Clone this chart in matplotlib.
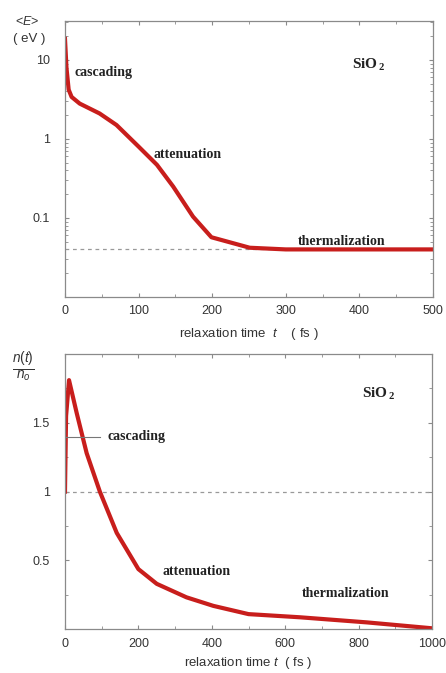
import matplotlib
matplotlib.use('Agg')
import matplotlib.pyplot as plt
from matplotlib.ticker import MultipleLocator, FixedLocator, LogLocator, NullFormatter

plt.rcParams['font.family'] = ['Liberation Sans', 'DejaVu Sans']
plt.rcParams['mathtext.fontset'] = 'custom'
plt.rcParams['mathtext.it'] = 'Liberation Sans:italic'
plt.rcParams['mathtext.rm'] = 'Liberation Sans'
plt.rcParams['mathtext.bf'] = 'Liberation Serif:bold'

# top panel: mean energy <E> (eV) vs relaxation time (fs)
t_E = [0, 2, 5, 9, 20, 47, 70, 100, 125, 147, 174, 199, 251, 300, 400, 500]
E = [18.5, 8.0, 4.2, 3.4, 2.8, 2.1, 1.5, 0.80, 0.47, 0.25, 0.104, 0.057, 0.042, 0.040, 0.040, 0.040]
E_therm = 0.04

# bottom panel: n(t)/n0 vs relaxation time (fs)
t_n = [0, 3, 11, 32, 59, 95, 141, 200, 250, 331, 404, 500, 640, 822, 1000]
n = [1.0, 1.55, 1.81, 1.57, 1.28, 1.0, 0.70, 0.437, 0.33, 0.232, 0.17, 0.11, 0.087, 0.05, 0.007]

red = '#c81e1c'
frame = '#8a8a8a'
txt = '#333333'
lbl = dict(family='Liberation Serif', fontweight='bold', fontsize=10, color='#222222', va='center')
sio = dict(family='Liberation Serif', fontweight='bold', fontsize=11, color='#222222', va='center')

fig = plt.figure(figsize=(4.46, 6.73), dpi=100)
ax1 = fig.add_axes([0.1457, 0.5587, 0.825, 0.410])
ax2 = fig.add_axes([0.1457, 0.0650, 0.823, 0.409])

for ax in (ax1, ax2):
    for s in ax.spines.values():
        s.set_color(frame)
        s.set_linewidth(0.9)
    ax.tick_params(which='both', direction='in', top=True, right=True,
                   color=frame, labelsize=9, labelcolor=txt)
    ax.tick_params(which='major', length=3)
    ax.tick_params(which='minor', length=2)
    ax.tick_params(axis='y', which='major', pad=11)
    ax.tick_params(axis='x', which='major', pad=6)

# ---- top
ax1.axhline(E_therm, color='#999999', lw=0.9, ls=(0, (3, 3)))
ax1.plot(t_E, E, color=red, lw=3)
ax1.set_yscale('log')
ax1.set_xlim(0, 500)
ax1.set_ylim(0.01, 31)
ax1.set_yticks([0.1, 1, 10])
ax1.set_yticklabels(['0.1', '1', '10'])
ax1.yaxis.set_minor_locator(LogLocator(base=10, subs=range(2, 10)))
ax1.yaxis.set_minor_formatter(NullFormatter())
ax1.xaxis.set_major_locator(MultipleLocator(100))
ax1.xaxis.set_minor_locator(MultipleLocator(50))
ax1.set_xlabel('relaxation time  $t$    ( fs )', fontsize=9.5, color=txt, labelpad=6)
ax1.text(-0.135, 1.0, r'<$E$>', transform=ax1.transAxes, fontsize=9, color=txt, va='center')
ax1.text(-0.142, 0.935, '( eV )', transform=ax1.transAxes, fontsize=9.5, color=txt, va='center')
ax1.text(13, 7.0, 'cascading', **lbl)
ax1.text(120, 0.63, 'attenuation', **lbl)
ax1.text(316, 0.051, 'thermalization', **lbl)
ax1.text(390, 8.7, r'SiO$_{\,\mathbf{2}}$', **sio)

# ---- bottom
ax2.axhline(1.0, color='#999999', lw=0.9, ls=(0, (3, 3)))
ax2.plot(t_n, n, color=red, lw=3)
ax2.set_xlim(0, 1000)
ax2.set_ylim(0, 2)
ax2.yaxis.set_major_locator(FixedLocator([0.5, 1, 1.5]))
ax2.set_yticklabels(['0.5', '1', '1.5'])
ax2.yaxis.set_minor_locator(MultipleLocator(0.25))
ax2.xaxis.set_major_locator(MultipleLocator(200))
ax2.xaxis.set_minor_locator(MultipleLocator(100))
ax2.set_xlabel('relaxation time $t$  ( fs )', fontsize=9.5, color=txt, labelpad=4)
ax2.text(-0.115, 0.95, r'$\frac{n(t)}{n_o}$', transform=ax2.transAxes, fontsize=14, color=txt, va='center', ha='center')
ax2.plot([0, 95], [1.40, 1.40], color='#777777', lw=0.8)
ax2.text(115, 1.40, 'cascading', **lbl)
ax2.text(265, 0.42, 'attenuation', **lbl)
ax2.text(645, 0.26, 'thermalization', **lbl)
ax2.text(810, 1.71, r'SiO$_{\,\mathbf{2}}$', **sio)

fig.savefig('out.png', dpi=100)
